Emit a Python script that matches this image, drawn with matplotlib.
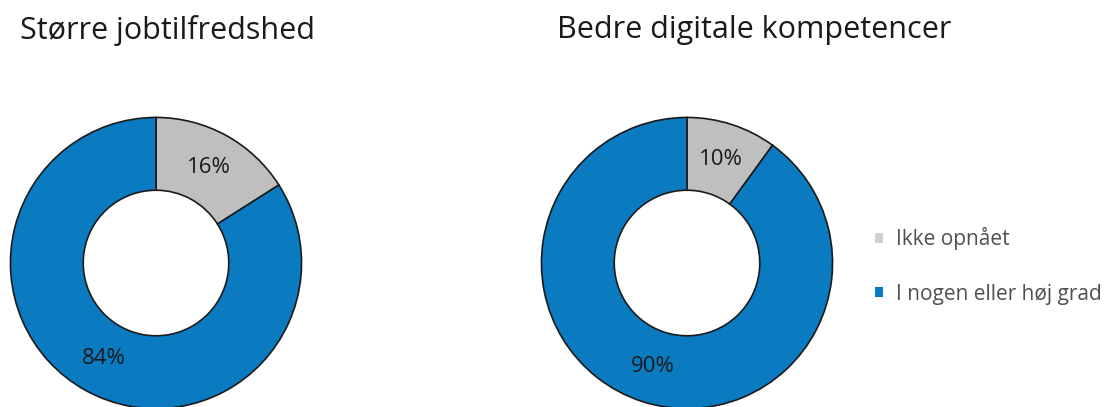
import matplotlib.pyplot as plt

titles = ['Større jobtilfredshed', 'Bedre digitale kompetencer']
categories = ['Ikke opnået', 'I nogen eller høj grad']
left_values = [16, 84]
right_values = [10, 90]
colors = ['#BFBFBF', '#0A7BC1']

plt.rcParams['font.family'] = ['Open Sans', 'DejaVu Sans']

W, H = 1106, 407
fig = plt.figure(figsize=(W / 100, H / 100), dpi=100)


def donut_axes(cx, cy, r):
    # cx, cy in pixels from top-left
    return fig.add_axes([(cx - r) / W, (H - cy - r) / H, 2 * r / W, 2 * r / H])


wedges = None
for cx, vals, title, tx in [(156, left_values, titles[0], 20),
                            (687, right_values, titles[1], 557)]:
    ax = donut_axes(cx, 263, 147)
    w, t, at = ax.pie(vals, colors=colors, startangle=90, counterclock=False,
                      radius=1, autopct='%d%%', pctdistance=0.75,
                      wedgeprops=dict(width=0.5, edgecolor='#1a1a1a', linewidth=1.2),
                      textprops=dict(fontsize=16, color='#1a1a1a'))
    ax.set_xlim(-1.01, 1.01)
    ax.set_ylim(-1.01, 1.01)
    ax.set_aspect('equal')
    ax.axis('off')
    fig.text(tx / W, 1 - 30 / H, title, fontsize=22, color='#1a1a1a', va='center', ha='left')
    wedges = w

leg = fig.legend(wedges, categories, loc='center left', bbox_to_anchor=(856 / W, 1 - 266 / H),
                 frameon=False, fontsize=15, handlelength=0.4, handleheight=0.4,
                 labelspacing=1.6, handletextpad=0.6, labelcolor='#505050')
for h, c in zip(leg.legend_handles, ['#D0D0D0', '#0A7BC1']):
    h.set_edgecolor('none')
    h.set_facecolor(c)

fig.savefig('out.png', dpi=100)
